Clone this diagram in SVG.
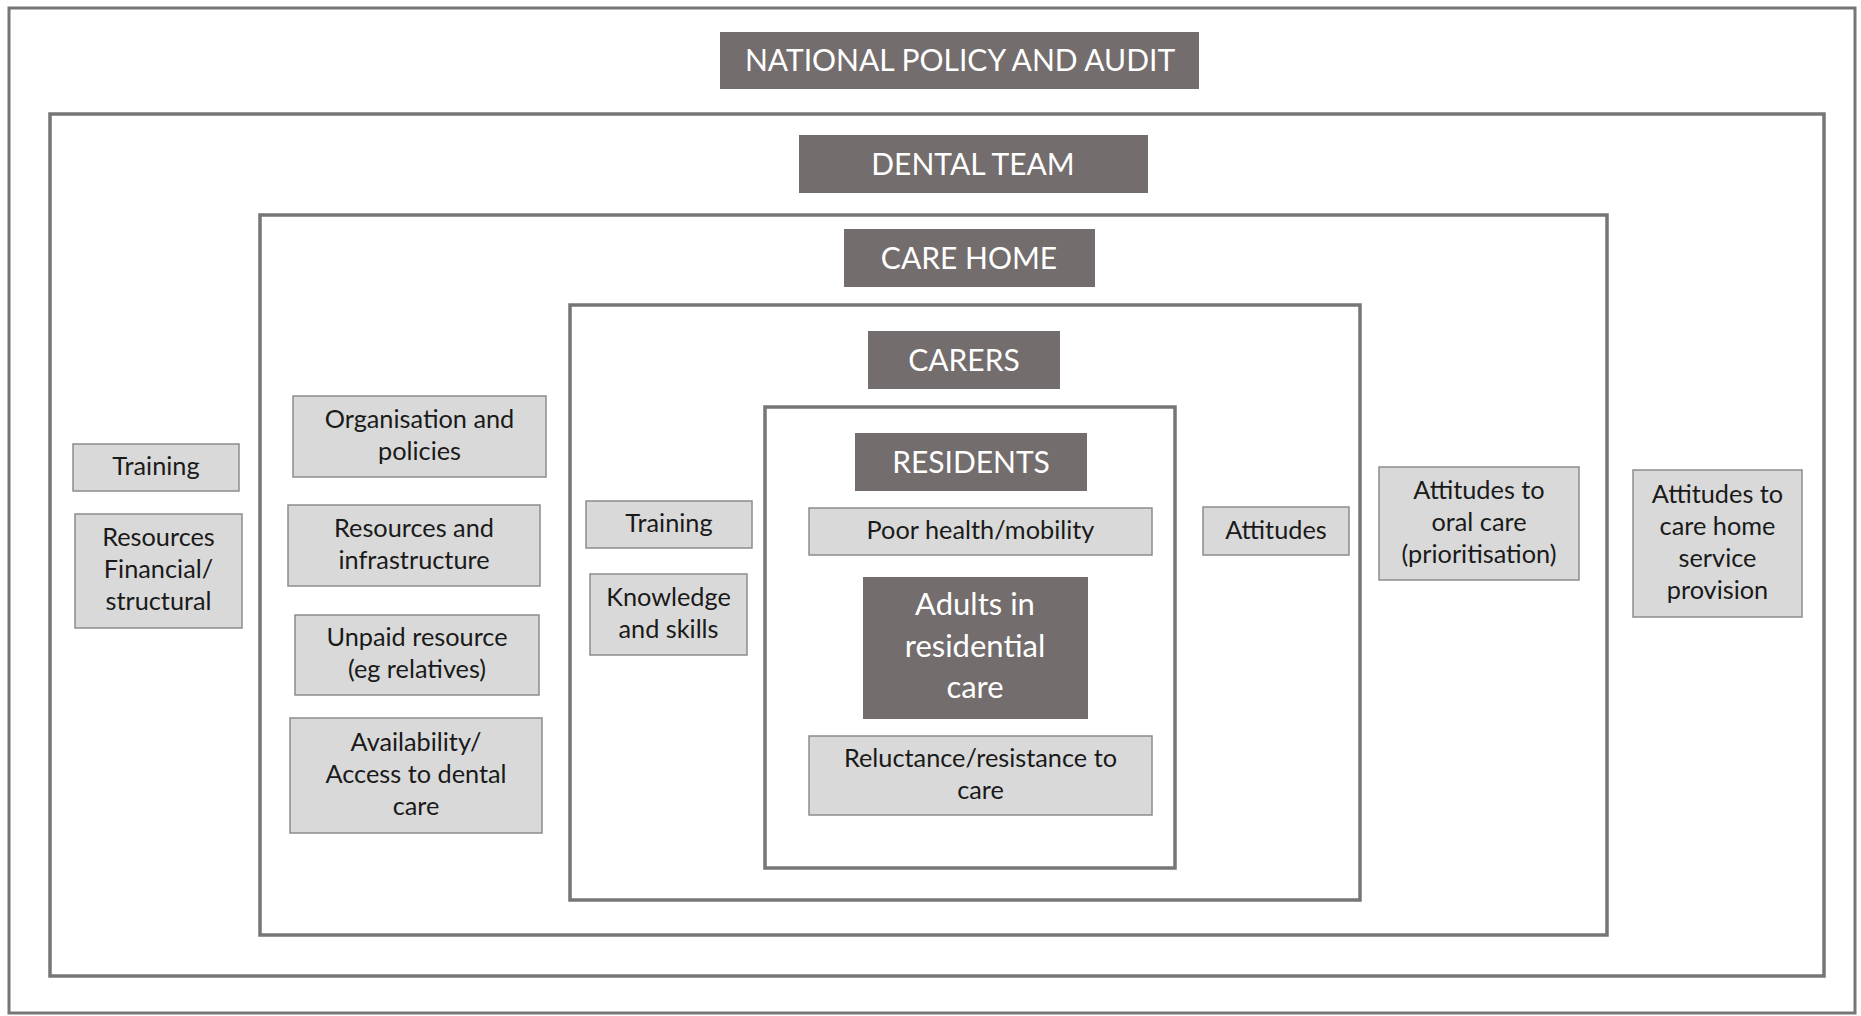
<svg xmlns="http://www.w3.org/2000/svg" width="1861" height="1016" viewBox="0 0 1861 1016">
<style>
.frame{fill:none;stroke:#767676;stroke-width:3.5}
.dark{fill:#736d6d}
.light{fill:#d9d9d9;stroke:#8c8c8c;stroke-width:1.5}
.ht{font-family:Lato,"Liberation Sans",sans-serif;font-size:30px;fill:#ffffff;text-anchor:middle}
.at{font-family:Lato,"Liberation Sans",sans-serif;font-size:31px;fill:#ffffff;text-anchor:middle}
.t{font-family:Lato,"Liberation Sans",sans-serif;font-size:25.3px;fill:#1a1a1a;text-anchor:middle}
</style>
<rect width="1861" height="1016" fill="#ffffff"/>
<g id="frames">
<rect id="frame-national" class="frame" x="9" y="8" width="1846" height="1005" style="stroke-width:3"/>
<rect id="frame-dental" class="frame" x="50" y="114" width="1774" height="862"/>
<rect id="frame-carehome" class="frame" x="260" y="215" width="1347" height="720"/>
<rect id="frame-carers" class="frame" x="570" y="305" width="790" height="595"/>
<rect id="frame-residents" class="frame" x="765" y="407" width="410" height="461"/>
</g>
<g id="connectors"></g>
<g id="n-national"><rect class="dark" x="720" y="32" width="479" height="57"/><text class="ht" x="960" y="71">NATIONAL POLICY AND AUDIT</text></g>
<g id="n-dental"><rect class="dark" x="799" y="135" width="349" height="58"/><text class="ht" x="973" y="175">DENTAL TEAM</text></g>
<g id="n-carehome"><rect class="dark" x="844" y="229" width="251" height="58"/><text class="ht" x="969" y="269">CARE HOME</text></g>
<g id="n-carers"><rect class="dark" x="868" y="331" width="192" height="58"/><text class="ht" x="964" y="371">CARERS</text></g>
<g id="n-residents"><rect class="dark" x="855" y="433" width="232" height="58"/><text class="ht" x="971" y="473">RESIDENTS</text></g>
<g id="n-adults"><rect class="dark" x="863" y="577" width="225" height="142"/><text class="at" x="975" y="615">Adults in</text><text class="at" x="975" y="657">residential</text><text class="at" x="975" y="698">care</text></g>
<g id="n-training-dental"><rect class="light" x="73" y="444" width="166" height="47"/><text class="t" x="156" y="475">Training</text></g>
<g id="n-resources-fin"><rect class="light" x="75" y="514" width="167" height="114"/><text class="t" x="158.5" y="546">Resources</text><text class="t" x="158.5" y="578">Financial/</text><text class="t" x="158.5" y="610">structural</text></g>
<g id="n-organisation"><rect class="light" x="293" y="396" width="253" height="81"/><text class="t" x="419.5" y="427.5">Organisation and</text><text class="t" x="419.5" y="459.5">policies</text></g>
<g id="n-resources-infra"><rect class="light" x="288" y="505" width="252" height="81"/><text class="t" x="414" y="536.5">Resources and</text><text class="t" x="414" y="568.5">infrastructure</text></g>
<g id="n-unpaid"><rect class="light" x="295" y="615" width="244" height="80"/><text class="t" x="417" y="646">Unpaid resource</text><text class="t" x="417" y="678">(eg relatives)</text></g>
<g id="n-availability"><rect class="light" x="290" y="718" width="252" height="115"/><text class="t" x="416" y="750.5">Availability/</text><text class="t" x="416" y="782.5">Access to dental</text><text class="t" x="416" y="814.5">care</text></g>
<g id="n-training-carers"><rect class="light" x="586" y="501" width="166" height="47"/><text class="t" x="669" y="532">Training</text></g>
<g id="n-knowledge"><rect class="light" x="590" y="574" width="157" height="81"/><text class="t" x="668.5" y="605.5">Knowledge</text><text class="t" x="668.5" y="637.5">and skills</text></g>
<g id="n-poorhealth"><rect class="light" x="809" y="508" width="343" height="47"/><text class="t" x="980.5" y="539">Poor health/mobility</text></g>
<g id="n-reluctance"><rect class="light" x="809" y="736" width="343" height="79"/><text class="t" x="980.5" y="766.5">Reluctance/resistance to</text><text class="t" x="980.5" y="798.5">care</text></g>
<g id="n-attitudes"><rect class="light" x="1203" y="507" width="146" height="48"/><text class="t" x="1276" y="538.5">Attitudes</text></g>
<g id="n-attitudes-oral"><rect class="light" x="1379" y="467" width="200" height="113"/><text class="t" x="1479" y="498.5">Attitudes to</text><text class="t" x="1479" y="530.5">oral care</text><text class="t" x="1479" y="562.5">(prioritisation)</text></g>
<g id="n-attitudes-carehome"><rect class="light" x="1633" y="470" width="169" height="147"/><text class="t" x="1717.5" y="502.5">Attitudes to</text><text class="t" x="1717.5" y="534.5">care home</text><text class="t" x="1717.5" y="566.5">service</text><text class="t" x="1717.5" y="598.5">provision</text></g>
</svg>
